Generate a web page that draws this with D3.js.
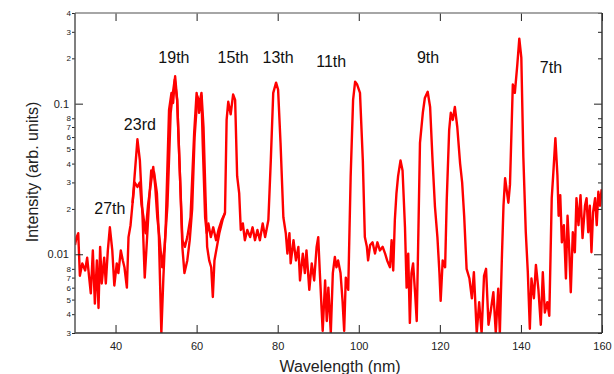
<!DOCTYPE html>
<html>
<head>
<meta charset="utf-8">
<script src="https://cdn.jsdelivr.net/npm/d3@7"></script>
<style>
  body { margin: 0; background: #fff; }
  svg { font-family: "Liberation Sans", Arial, sans-serif; }
</style>
</head>
<body>
<div id="chart-container"></div>
<script>
// main spectrum (nm, arb. units)
var wavelengthA = [30.0,30.4,30.8,31.2,31.8,32.5,33.0,33.5,33.9,34.4,34.9,35.4,35.8,36.2,36.6,37.2,37.6,38.1,38.6,39.2,
  39.7,40.3,40.7,41.3,41.8,42.2,42.8,43.2,43.7,44.2,
  44.7,45.4,46.0,46.6,47.2,47.7,48.3,48.8,49.5,50.2,50.7,51.3,51.8,52.4,53.2,53.8,54.2,54.7,55.2,55.9,
  56.5,57.1,57.7,58.5,59.4,60.0,60.6,61.2,61.5,62.1,62.5,62.9,63.5,64.1,64.8,65.4,66.2,67.0,67.4,67.8,
  68.4,69.0,69.5,70.0,70.5,70.9,71.4,71.9,72.5,73.2,73.8,74.4,75.0,75.6,76.3,76.9,77.7,78.3,78.9,79.6,
  80.1,80.7,81.4,82.0,82.4,82.9,83.2,83.9,84.5,85.1,85.5,86.2,86.7,87.1,87.8,88.4,89.0,89.6,90.0,90.4,
  91.1,91.7,92.1,92.5,93.1,93.6,94.1,94.5,94.9,95.5,96.0,96.4,96.8,97.4,98.0,98.6,99.1,99.6,100.3,101.0,
  101.5,102.0,102.3,102.8,103.4,104.0,104.6,105.2,105.9,106.5,107.0,107.7,108.1,108.5,108.9,109.3,109.7,110.3,110.8,111.4,
  111.8,112.2,112.6,113.0,113.4,113.9,114.3,114.7,115.1,115.8,116.3,117.0,117.6,118.2,118.8,119.4,119.9,120.2,120.7,121.3,
  121.7,122.3,122.7,123.2,123.7,124.3,125.0,125.5,126.0,126.6,127.3,127.9,128.4,129.1,129.7,130.3,130.9,131.4,132.0,132.5,
  133.2,133.8,134.4,134.8,135.3,135.7,136.1,136.9,137.3,138.0,138.5,139.1,139.6,140.1,140.6,141.2,141.7,142.2,142.6,143.2,
  143.7,144.3,144.9,145.4,145.9,146.5,147.0,147.6,148.0,148.5,149.0,149.3,149.7,150.1,150.6,151.1,151.5,151.9,152.3,152.8,
  153.3,153.7,154.2,154.7,155.2,155.8,156.2,156.6,157.0,157.4,157.8,158.3,158.7,159.1,159.5,159.9]
var intensityA = [0.0115,0.013,0.0138,0.0072,0.0087,0.0078,0.0095,0.007,0.0055,0.0106,0.0047,0.0091,0.0044,0.0112,0.0064,0.0095,0.0064,0.0106,0.0151,0.0106,
  0.0062,0.0087,0.0075,0.0106,0.0091,0.0082,0.006,0.013,0.0156,0.0219,
  0.0330,0.058,0.042,0.0197,0.0070,0.0118,0.0229,0.036,0.035,0.0255,0.0130,0.0030,0.0070,0.016,0.091,0.118,0.101,0.152,0.106,0.033,
  0.0124,0.0112,0.0130,0.0176,0.064,0.118,0.087,0.112,0.055,0.0176,0.0138,0.016,0.013,0.0151,0.0124,0.0145,0.0169,0.0188,0.078,0.103,
  0.085,0.115,0.106,0.033,0.0255,0.0145,0.016,0.0124,0.0145,0.013,0.0151,0.0124,0.0145,0.0124,0.016,0.013,0.0169,0.042,0.118,0.138,
  0.124,0.055,0.0176,0.0138,0.0101,0.0138,0.0087,0.0124,0.0091,0.0112,0.0067,0.0101,0.0075,0.0106,0.0058,0.0087,0.0067,0.0112,0.013,0.0075,
  0.0031,0.0067,0.0036,0.006,0.003,0.0075,0.0096,0.0082,0.0091,0.0075,0.0049,0.0031,0.007,0.0058,0.033,0.106,0.14,0.134,0.118,0.042,
  0.013,0.0112,0.0091,0.0115,0.012,0.0101,0.012,0.0106,0.0112,0.0101,0.0091,0.0082,0.0124,0.0078,0.0169,0.0255,0.033,0.042,0.036,0.0151,
  0.006,0.0101,0.0035,0.0075,0.0087,0.0055,0.0036,0.0138,0.055,0.087,0.109,0.12,0.095,0.042,0.0206,0.013,0.0075,0.0049,0.0091,0.0082,
  0.0229,0.067,0.087,0.078,0.095,0.07,0.040,0.030,0.018,0.008,0.0069,0.0051,0.0076,0.003,0.0048,0.003,0.0072,0.008,0.0034,0.0041,
  0.0056,0.003,0.0059,0.003,0.0094,0.021,0.032,0.022,0.029,0.134,0.118,0.18,0.27,0.202,0.044,0.014,0.0076,0.0032,0.0069,0.0051,
  0.0085,0.0059,0.0034,0.0076,0.0041,0.0048,0.0039,0.0236,0.035,0.059,0.0336,0.018,0.0247,0.012,0.0156,0.0069,0.018,0.011,0.0056,0.014,
  0.0103,0.0236,0.0156,0.0247,0.0128,0.021,0.0236,0.014,0.021,0.0103,0.019,0.0236,0.0156,0.026,0.021,0.027]

// second scan, only where it separates from the first one
var wavelengthB = [44.2,44.7,45.4,46.0,46.4,46.9,47.4,48.0,48.6,49.3,49.8,50.3,50.9,51.5,52.1,52.8,53.6,54.1,54.6,55.2,
  55.9,56.5,57.0,57.7,58.3,58.9,59.5,60.2,60.7,61.2,61.7,62.2,62.6,63.1,63.6,64.0,64.4,65.0,65.6,66.4,67.0]
var intensityB = [0.0219,0.030,0.028,0.030,0.0215,0.0176,0.0138,0.021,0.028,0.038,0.028,0.0176,0.0124,0.0082,0.0112,0.021,0.087,0.115,0.145,0.106,
  0.033,0.011,0.0075,0.0091,0.0124,0.020,0.060,0.112,0.10,0.118,0.07,0.024,0.0112,0.0091,0.0082,0.0052,0.0091,0.0112,0.0138,0.0169,0.0188]

// harmonic order labels
var harmonicNames = ['27th','23rd','19th','15th','13th','11th','9th','7th']
var harmonicWl = [38.6,46.0,54.4,69.0,80.1,93.2,117.1,147.4]
var harmonicAt = [0.0185,0.067,0.187,0.187,0.185,0.174,0.185,0.161]

var xTicks = [40,60,80,100,120,140,160]
var yMajor = [0.01,0.1]
var yMinor = [0.003,0.004,0.005,0.006,0.007,0.008,0.02,0.03,0.04,0.05,0.06,0.07,0.08,0.2,0.3,0.4]

var chartW = 614, chartH = 374
var plotL = 75, plotR = 602, plotT = 13, plotB = 333

var svg = d3.select('#chart-container')
  .append('svg')
  .attr('width', chartW)
  .attr('height', chartH)

var x = d3.scaleLinear().domain([30,160]).range([plotL,plotR])
var y = d3.scaleLog().domain([0.003,0.4]).range([plotB,plotT])

svg.append('clipPath').attr('id','plot-clip')
  .append('rect')
  .attr('x', plotL).attr('y', plotT)
  .attr('width', plotR-plotL).attr('height', plotB-plotT)

var line = d3.line()
  .x(function(d){ return x(d[0]) })
  .y(function(d){ return y(Math.max(d[1], 0.0029)) })

var traceA = d3.zip(wavelengthA, intensityA)
var traceB = d3.zip(wavelengthB, intensityB)

var traces = svg.append('g').attr('clip-path','url(#plot-clip)')
;[traceB, traceA].forEach(function(tr){
  traces.append('path')
    .datum(tr)
    .attr('d', line)
    .attr('fill','none')
    .attr('stroke','#ff0000')
    .attr('stroke-width',2.4)
    .attr('stroke-linejoin','round')
})

function styleAxis(g, size){
  g.select('.domain').remove()
  g.selectAll('.tick line').attr('stroke','#222').attr('stroke-width',1)
  g.selectAll('.tick text').attr('fill','#222').style('font-size', size)
}

var minorFmt = function(d){ return String(Math.round(d / Math.pow(10, Math.floor(Math.log10(d)+1e-9)))) }

// left axis
svg.append('g').attr('transform','translate('+plotL+',0)')
  .call(d3.axisLeft(y).tickValues(yMinor).tickSize(3).tickPadding(1).tickFormat(minorFmt))
  .call(styleAxis,'8px')
svg.append('g').attr('transform','translate('+plotL+',0)')
  .call(d3.axisLeft(y).tickValues(yMajor).tickSizeInner(-8).tickSizeOuter(0).tickPadding(6).tickFormat(d3.format('')))
  .call(styleAxis,'11px')

// right axis
svg.append('g').attr('transform','translate('+plotR+',0)')
  .call(d3.axisRight(y).tickValues(yMinor).tickSize(-4).tickFormat(''))
  .call(styleAxis,'8px')
svg.append('g').attr('transform','translate('+plotR+',0)')
  .call(d3.axisRight(y).tickValues(yMajor).tickSize(-8).tickFormat(''))
  .call(styleAxis,'8px')

// bottom + top
svg.append('g').attr('transform','translate(0,'+plotB+')')
  .call(d3.axisBottom(x).tickValues(xTicks).tickSize(-8).tickPadding(9).tickFormat(d3.format('d')))
  .call(styleAxis,'11px')
svg.append('g').attr('transform','translate(0,'+plotT+')')
  .call(d3.axisTop(x).tickValues(xTicks).tickSize(-8).tickFormat(''))
  .call(styleAxis,'11px')

// frame
svg.append('line').attr('x1',plotL).attr('x2',plotR).attr('y1',plotT).attr('y2',plotT).attr('stroke','#888').attr('stroke-width',1.5)
svg.append('line').attr('x1',plotL).attr('x2',plotR).attr('y1',plotB).attr('y2',plotB).attr('stroke','#333').attr('stroke-width',1.5)
svg.append('line').attr('x1',plotL).attr('x2',plotL).attr('y1',plotT).attr('y2',plotB).attr('stroke','#555').attr('stroke-width',1.5)
svg.append('line').attr('x1',plotR).attr('x2',plotR).attr('y1',plotT).attr('y2',plotB).attr('stroke','#333').attr('stroke-width',1.5)

svg.append('g').selectAll('text')
  .data(harmonicNames)
  .enter().append('text')
    .attr('x', function(d,i){ return x(harmonicWl[i]) })
    .attr('y', function(d,i){ return y(harmonicAt[i]) })
    .attr('text-anchor','middle')
    .style('font-size','16px')
    .attr('fill','#111')
    .text(function(d){ return d })

svg.append('text')
  .attr('x', 340).attr('y', 372)
  .attr('text-anchor','middle')
  .style('font-size','16px')
  .attr('fill','#222')
  .text('Wavelength (nm)')

svg.append('text')
  .attr('transform','translate(38,172) rotate(-90)')
  .attr('text-anchor','middle')
  .style('font-size','16px')
  .attr('fill','#222')
  .text('Intensity (arb. units)')
</script>
</body>
</html>
